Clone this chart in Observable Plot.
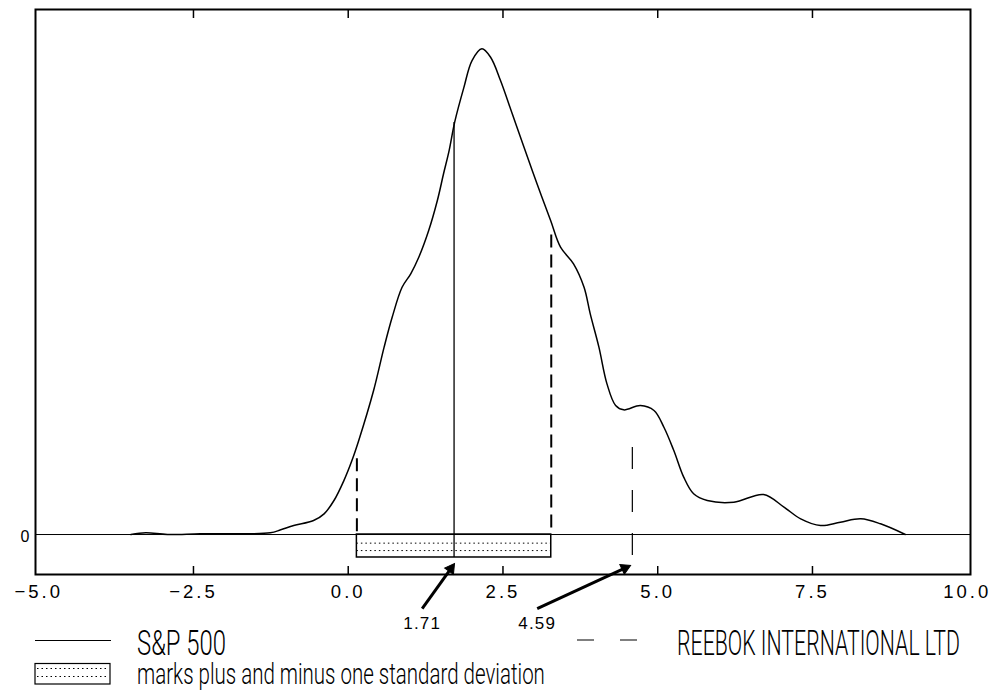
<!DOCTYPE html>
<html><head><meta charset="utf-8">
<script src="https://cdn.jsdelivr.net/npm/d3@7"></script>
<script src="https://cdn.jsdelivr.net/npm/@observablehq/plot@0.6"></script>
<style>
html,body{margin:0;padding:0;background:#fff;}
#chart svg{display:block;}
</style>
</head><body><div id="chart"></div>
<script>
// ---- data ----
const sp500Return = [-3.51, -3.27, -2.92, -2.39, -1.26, -1.09, -0.88, -0.56, -0.39, -0.23, -0.07, 0.06, 0.17, 0.41, 0.58, 0.71, 0.87, 1.01, 1.14, 1.30, 1.44, 1.54, 1.63, 1.72, 1.87, 2.00, 2.16, 2.30, 2.46, 2.65, 2.84, 3.05, 3.27, 3.43, 3.64, 3.81, 3.91, 4.05, 4.18, 4.32, 4.45, 4.72, 4.94, 5.10, 5.26, 5.42, 5.58, 5.80, 6.23, 6.71, 7.04, 7.31, 7.63, 7.95, 8.28, 8.60, 9.00];
const sp500Density = [0, 0.0014, 0, 0.0006, 0.0014, 0.0039, 0.0074, 0.0115, 0.0170, 0.0280, 0.0444, 0.0609, 0.0774, 0.1185, 0.1542, 0.1788, 0.2035, 0.2146, 0.2282, 0.2502, 0.2749, 0.2969, 0.3160, 0.3394, 0.3682, 0.3901, 0.3998, 0.3928, 0.3737, 0.3463, 0.3188, 0.2886, 0.2584, 0.2365, 0.2228, 0.2035, 0.1816, 0.1542, 0.1240, 0.1062, 0.1026, 0.1062, 0.1021, 0.0883, 0.0691, 0.0472, 0.0335, 0.0280, 0.0266, 0.0329, 0.0225, 0.0129, 0.0074, 0.0101, 0.0129, 0.0088, 0];
const xTickValues = [-5, -2.5, 0, 2.5, 5, 7.5, 10];
const xTickLabels = ["\u22125.0", "\u22122.5", "0.0", "2.5", "5.0", "7.5", "10.0"];
const innerTickValues = [-2.5, 0, 2.5, 5, 7.5];
const spMean = 1.71;
const spLower = 0.14;
const spUpper = 3.28;
const spMeanDensity = 0.339;
const spLowerDensity = 0.0623;
const spUpperDensity = 0.2466;
const reebokMean = 4.59;
const reebokTop = 0.0716;
const annotationValues = [1.71, 4.59];
const annotationLabels = ["1.71", "4.59"];
const legendLabels = ["S&P 500", "REEBOK INTERNATIONAL LTD", "marks plus and minus one standard deviation"];

// ---- layout constants ----
const xDomain = [-5.052, 10.053];
const yDomain = [-0.0329, 0.4321];
const W = 999, H = 692, mL = 35, mR = 29, mT = 9, mB = 118;
const kx = (W - mL - mR) / (xDomain[1] - xDomain[0]);
const ky = (H - mT - mB) / (yDomain[1] - yDomain[0]);
const boxBottom = -0.0189;
const dotted = [-0.0071, -0.0132];
const curveData = sp500Return.map((x, i) => ({x, y: sp500Density[i]}));
const tailShift = [-0.515, -1.537];
const tipShift = [0.007, -0.029];
const tipY = [-0.0239, -0.0255];
const headBack = 6.2;
const arrows = annotationValues.map((v, i) => {
  const x1 = v + tailShift[i], y1 = -0.0609, x2 = v + tipShift[i], y2 = tipY[i];
  const dxp = (x2 - x1) * kx, dyp = -(y2 - y1) * ky;
  const len = Math.hypot(dxp, dyp), ux = dxp / len, uy = dyp / len;
  return {
    label: annotationLabels[i], x1, y1, x2, y2,
    hx: x2 - headBack * ux / kx, hy: y2 + headBack * uy / ky,
    angle: Math.atan2(ux, -uy) * 180 / Math.PI
  };
});

const chart = Plot.plot({
  width: W, height: H,
  marginLeft: mL, marginRight: mR, marginTop: mT, marginBottom: mB,
  style: {fontFamily: "'Liberation Sans', Arial, sans-serif", background: "white", color: "black", overflow: "visible"},
  x: {domain: xDomain, axis: null},
  y: {domain: yDomain, axis: null},
  marks: [
    Plot.ruleY([0], {stroke: "black", strokeWidth: 1}),
    Plot.line(curveData, {x: "x", y: "y", curve: "catmull-rom", stroke: "black", strokeWidth: 1.5}),
    Plot.rect([0], {x1: () => spLower, x2: () => spUpper, y1: () => boxBottom, y2: () => 0, fill: "none", stroke: "black", strokeWidth: 1.5}),
    Plot.ruleY(dotted, {x1: () => spLower, x2: () => spUpper, stroke: "black", strokeWidth: 1, strokeDasharray: "1.5,3"}),
    Plot.ruleX([spMean], {y1: () => boxBottom, y2: () => spMeanDensity, stroke: "black", strokeWidth: 1.3}),
    Plot.ruleX([spLower], {y1: () => spLowerDensity, y2: () => 0, stroke: "black", strokeWidth: 2, strokeDasharray: "13,7"}),
    Plot.ruleX([spUpper], {y1: () => spUpperDensity, y2: () => 0, stroke: "black", strokeWidth: 2, strokeDasharray: "13,7"}),
    Plot.ruleX([reebokMean], {y1: () => reebokTop, y2: () => boxBottom, stroke: "black", strokeWidth: 1.2, strokeDasharray: "22,21"}),
    Plot.ruleX(innerTickValues, {y1: () => yDomain[0], y2: () => yDomain[0] + 0.0066, stroke: "black", strokeWidth: 1.5}),
    Plot.ruleX(innerTickValues, {y1: () => yDomain[1], y2: () => yDomain[1] - 0.0074, stroke: "black", strokeWidth: 1.5}),
    Plot.text(xTickValues, {x: d => d, text: (d, i) => xTickLabels[i], frameAnchor: "bottom", dy: 23, fontSize: 18.5, fill: "black"}),
    Plot.text([0], {y: d => d, text: () => "0", frameAnchor: "left", dx: -15, dy: 2, fontSize: 16, fill: "black"}),
    Plot.link(arrows, {x1: "x1", y1: "y1", x2: "hx", y2: "hy", stroke: "black", strokeWidth: 3}),
    Plot.dot(arrows, {x: "hx", y: "hy", symbol: "triangle", r: 4, rotate: "angle", fill: "black", stroke: "black", strokeWidth: 1}),
    Plot.text(arrows, {x: "x1", y: "y1", text: "label", dy: 15, fontSize: 17, fill: "black"}),
    Plot.frame({stroke: "black", strokeWidth: 2})
  ]
});
document.getElementById("chart").appendChild(chart);

const svg = d3.select(chart);
// letter spacing of tick labels and arrow labels
svg.selectAll("text").each(function() {
  const t = this.textContent;
  if (xTickLabels.includes(t)) this.style.letterSpacing = "3px";
  else if (annotationLabels.includes(t)) this.style.letterSpacing = "1.2px";
});

// ---- legend below the plot area (narrow plotter-style lettering) ----
const lg = svg.append("g").attr("class", "legend");
const legendFont = "Roboto, 'Liberation Sans', Arial, sans-serif";
function narrowText(x, y, size, width, str) {
  const t = lg.append("text").attr("x", 0).attr("y", 0).attr("font-size", size).attr("font-weight", 300)
    .attr("font-family", legendFont).attr("text-anchor", "start").attr("fill", "black").text(str);
  const natural = t.node().getComputedTextLength() || width;
  t.attr("transform", `translate(${x},${y}) scale(${width / natural},1)`);
}
lg.append("line").attr("x1", 35).attr("x2", 111).attr("y1", 640.5).attr("y2", 640.5).attr("stroke", "black").attr("stroke-width", 1.2);
narrowText(137, 655, 36, 89, legendLabels[0]);
lg.append("line").attr("x1", 577).attr("x2", 640).attr("y1", 640).attr("y2", 640).attr("stroke", "black").attr("stroke-width", 1.2).attr("stroke-dasharray", "17,26");
narrowText(677, 655, 36, 283, legendLabels[1]);
lg.append("rect").attr("x", 35).attr("y", 663.5).attr("width", 75).attr("height", 20.5).attr("fill", "none").attr("stroke", "black").attr("stroke-width", 1.2);
[668.5, 676.5].forEach(yy => lg.append("line").attr("x1", 37).attr("x2", 109).attr("y1", yy).attr("y2", yy).attr("stroke", "black").attr("stroke-width", 1).attr("stroke-dasharray", "1.5,3"));
narrowText(137, 684, 29, 408, legendLabels[2]);
</script>
</body></html>
